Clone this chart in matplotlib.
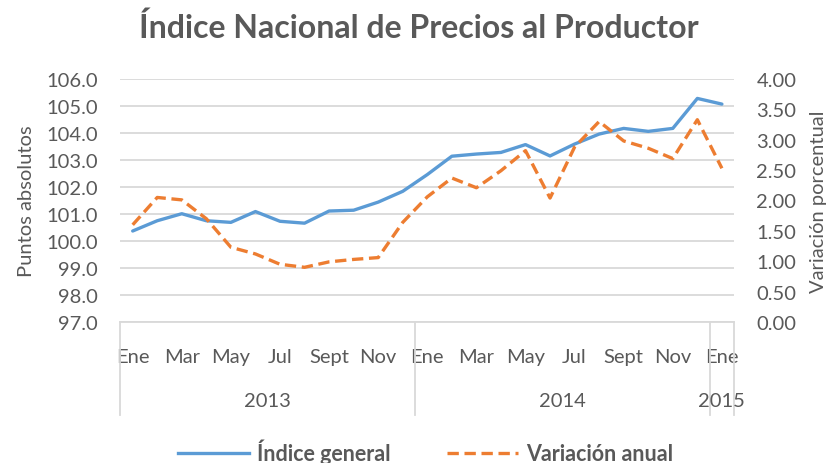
import matplotlib
matplotlib.use("Agg")
import matplotlib.pyplot as plt
import matplotlib.transforms as mtransforms
from matplotlib.lines import Line2D

plt.rcParams['font.family'] = ['Lato', 'DejaVu Sans']

# months Jan 2013 .. Jan 2015
month_names = ['Ene', 'Feb', 'Mar', 'Abr', 'May', 'Jun', 'Jul', 'Ago',
               'Sept', 'Oct', 'Nov', 'Dic']
years = ['2013', '2014', '2015']
months_per_year = [12, 12, 1]

indice = [100.37, 100.75, 101.01, 100.75, 100.69, 101.09, 100.73, 100.66,
          101.11, 101.14, 101.44, 101.84, 102.46, 103.14, 103.22, 103.28,
          103.57, 103.15, 103.59, 103.96, 104.17, 104.06, 104.17, 105.28,
          105.07]
variacion = [1.60, 2.05, 2.01, 1.70, 1.23, 1.12, 0.95, 0.90, 0.99, 1.03,
             1.06, 1.64, 2.06, 2.37, 2.21, 2.49, 2.82, 2.04, 2.88, 3.30,
             2.98, 2.86, 2.69, 3.33, 2.53]

grey = '#595959'
grid_c = '#D9D9D9'
blue = '#5B9BD5'
orange = '#ED7D31'
fs = 14.5

fig = plt.figure(figsize=(8.38, 4.64), dpi=100)
ax = fig.add_axes([0.1437, 0.3039, 0.7324, 0.5237])
ax2 = ax.twinx()

n = len(indice)
x = list(range(n))

ax.plot(x, indice, color=blue, lw=2.4, solid_capstyle='round', zorder=3)
ax2.plot(x, variacion, color=orange, lw=2.4, dashes=(3.4, 1.7), zorder=3)

ax.set_xlim(-0.5, n - 0.5)
ax.set_ylim(97, 106)
ax2.set_ylim(0, 4)
ax.set_yticks([97 + i for i in range(10)])
ax.set_yticklabels([f'{97 + i:.1f}' for i in range(10)])
ax2.set_yticks([i * 0.5 for i in range(9)])
ax2.set_yticklabels([f'{i * 0.5:.2f}' for i in range(9)])

for a in (ax, ax2):
    for s in ['top', 'left', 'right', 'bottom']:
        a.spines[s].set_visible(False)
    a.tick_params(axis='both', length=0, labelsize=fs, colors=grey)
ax.tick_params(axis='y', pad=16)
ax2.tick_params(axis='y', pad=16)
ax.grid(axis='y', color=grid_c, lw=1.3)
ax.set_axisbelow(True)

# month labels every two months
labels = [month_names[i % 12] for i in range(n)]
ax.set_xticks(x[::2])
ax.set_xticklabels(labels[::2])
ax.tick_params(axis='x', pad=19)

# bottom axis line and year group boxes
trans = mtransforms.blended_transform_factory(ax.transData, ax.transAxes)
ax.add_line(Line2D([-0.5, n - 0.5], [0, 0], transform=trans, color=grid_c,
                   lw=1.3, clip_on=False))
start = 0
bounds = [-0.5]
for yr, cnt in zip(years, months_per_year):
    end = start + cnt
    ax.text((start + end - 1) / 2, -0.325, yr, transform=trans, ha='center',
            va='center', fontsize=fs, color=grey)
    bounds.append(end - 0.5)
    start = end
for b in bounds:
    ax.add_line(Line2D([b, b], [0, -0.383], transform=trans, color=grid_c,
                       lw=1.3, clip_on=False))

ax.set_ylabel('Puntos absolutos', fontsize=14.5, color=grey, labelpad=8)
ax2.set_ylabel('Variación porcentual', fontsize=14.5, color=grey, labelpad=10)

fig.text(0.5, 0.94, 'Índice Nacional de Precios al Productor', ha='center',
         va='center', fontsize=23, fontweight='bold', color=grey)

handles = [Line2D([], [], color=blue, lw=2.4),
           Line2D([], [], color=orange, lw=2.4, dashes=(3.4, 1.7))]
leg = fig.legend(handles, ['Índice general', 'Variación anual'],
                 loc='center', bbox_to_anchor=(0.508, 0.025), ncol=2,
                 frameon=False, handlelength=3.3, columnspacing=2.6,
                 handletextpad=0.4, prop={'size': 15.5, 'weight': 'bold'})
for t in leg.get_texts():
    t.set_color(grey)

fig.savefig('out.png', dpi=100)
